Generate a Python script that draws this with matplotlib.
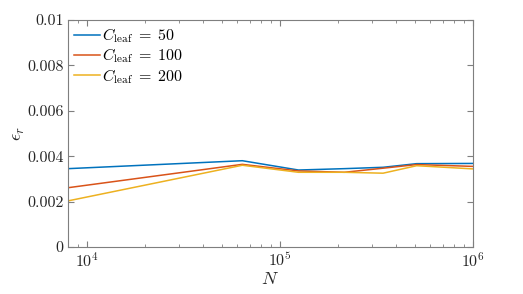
import matplotlib
matplotlib.use("Agg")
import matplotlib.pyplot as plt
from matplotlib.ticker import LogLocator, NullFormatter, FixedLocator

plt.rcParams["mathtext.fontset"] = "cm"
plt.rcParams["font.family"] = "serif"
plt.rcParams["font.serif"] = ["cmr10"]
plt.rcParams["axes.formatter.use_mathtext"] = True

N = [8000, 64000, 125000, 216000, 343000, 512000, 1000000]
err_50 = [0.00345, 0.00380, 0.00339, 0.00345, 0.00351, 0.00367, 0.00368]
err_100 = [0.00261, 0.00364, 0.00335, 0.00329, 0.00347, 0.00363, 0.00355]
err_200 = [0.00203, 0.00360, 0.00329, 0.00329, 0.00325, 0.00358, 0.00344]

SERIES = [
    (err_50, r"$C_{\rm leaf} \;=\; 50$", "#0072BD"),
    (err_100, r"$C_{\rm leaf} \;=\; 100$", "#D95319"),
    (err_200, r"$C_{\rm leaf} \;=\; 200$", "#EDB120"),
]

fig = plt.figure(figsize=(5.23, 2.94), dpi=100)
ax = fig.add_axes([0.130, 0.160, 0.774, 0.772])
for vals, label, color in SERIES:
    ax.plot(N, vals, color=color, linewidth=1.1, label=label)

ax.set_xscale("log")
ax.set_xlim(8000, 1e6)
ax.set_ylim(0, 0.01)
ax.yaxis.set_major_locator(FixedLocator([0, 0.002, 0.004, 0.006, 0.008, 0.01]))
ax.set_yticklabels(["0", "0.002", "0.004", "0.006", "0.008", "0.01"])
ax.xaxis.set_major_locator(LogLocator(base=10))
ax.xaxis.set_minor_locator(LogLocator(base=10, subs=range(2, 10)))
ax.xaxis.set_minor_formatter(NullFormatter())

gray = "#262626"
for s in ax.spines.values():
    s.set_color("#7f7f7f")
    s.set_linewidth(0.8)
ax.tick_params(which="both", direction="in", top=True, right=True, colors="#7f7f7f",
               labelcolor=gray, labelsize=11.5)
ax.tick_params(which="major", length=4, pad=3)
ax.tick_params(which="minor", length=2)

ax.set_xlabel(r"$N$", fontsize=13, color=gray, labelpad=1)
ax.set_ylabel(r"$\epsilon_r$", fontsize=13, color=gray, labelpad=0)

ax.legend(loc="upper left", frameon=False, fontsize=11.5, handlelength=1.6,
          handletextpad=0.1, labelspacing=0.1, borderaxespad=0.2, borderpad=0.2)

fig.savefig("out.png", dpi=100)
